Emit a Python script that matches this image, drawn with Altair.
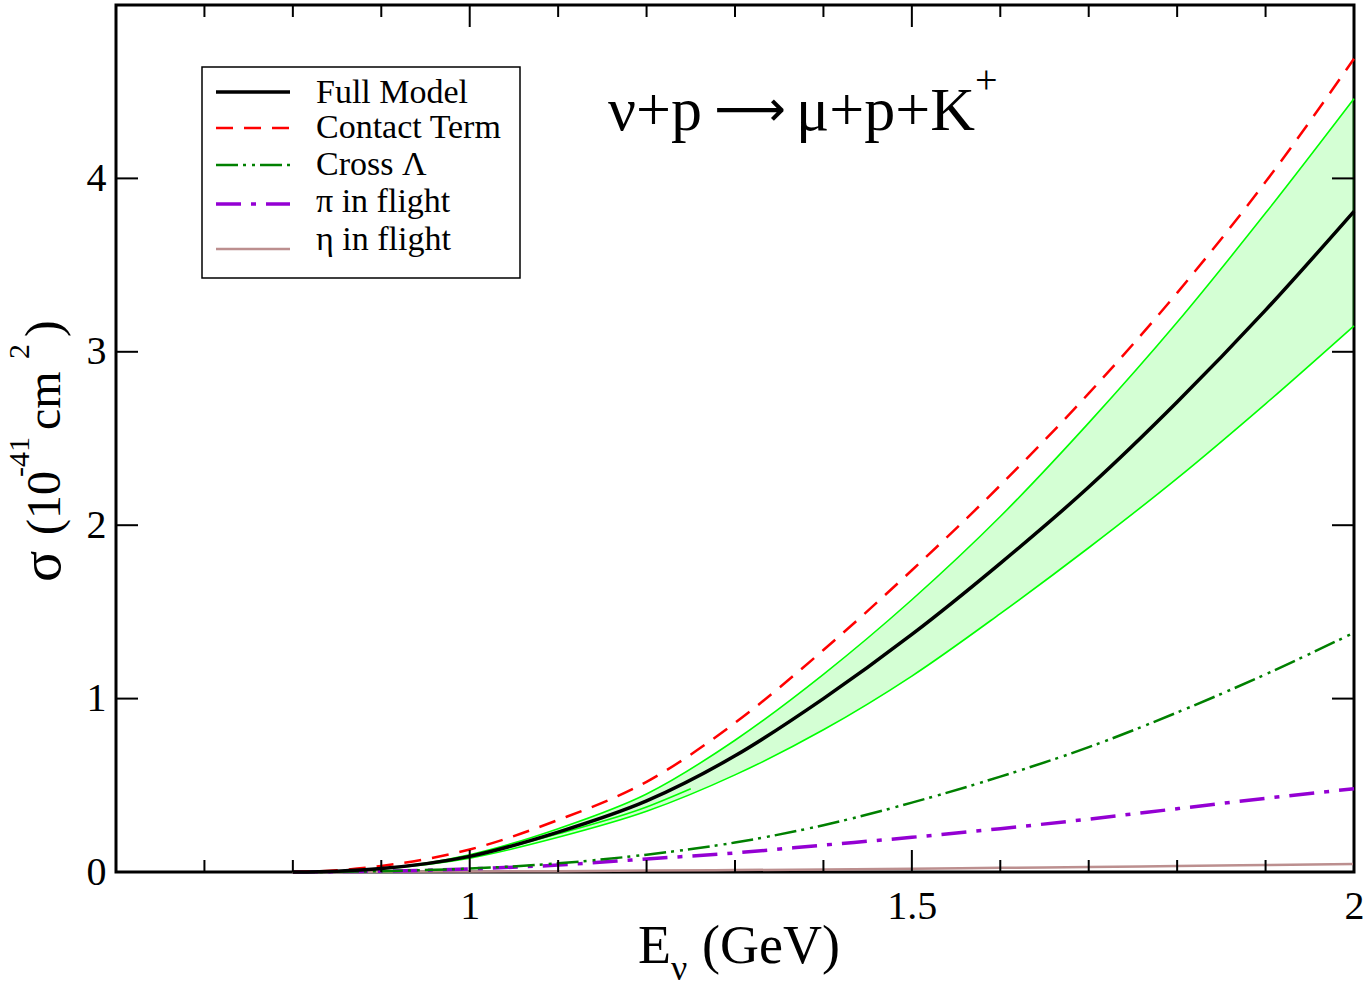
import altair as alt
import pandas as pd

# ---------------- data ----------------
energy = [0.80, 0.85, 0.90, 1.00, 1.10, 1.20, 1.30, 1.40, 1.50, 1.60, 1.70, 1.80, 1.90, 2.00]
full_model = [0.0, 0.005, 0.02, 0.09, 0.23, 0.41, 0.67, 1.00, 1.37, 1.78, 2.22, 2.71, 3.24, 3.81]
contact_term = [0.0, 0.01, 0.035, 0.13, 0.30, 0.52, 0.86, 1.28, 1.74, 2.23, 2.76, 3.34, 3.98, 4.69]
cross_lambda = [0.0, 0.001, 0.005, 0.02, 0.05, 0.10, 0.17, 0.27, 0.40, 0.55, 0.72, 0.92, 1.14, 1.38]
pi_flight = [0.0, 0.002, 0.005, 0.018, 0.04, 0.075, 0.11, 0.155, 0.20, 0.25, 0.305, 0.365, 0.425, 0.48]
eta_flight = [0.0, 0.0005, 0.001, 0.003, 0.005, 0.008, 0.011, 0.015, 0.019, 0.024, 0.029, 0.034, 0.040, 0.046]
band_upper = [0.0, 0.005, 0.02, 0.10, 0.25, 0.45, 0.76, 1.14, 1.57, 2.05, 2.59, 3.17, 3.80, 4.46]
band_lower = [0.0, 0.004, 0.018, 0.08, 0.20, 0.35, 0.56, 0.82, 1.13, 1.49, 1.87, 2.27, 2.70, 3.15]
short_energy = [1.00, 1.10, 1.20, 1.25]
short_green = [0.085, 0.22, 0.375, 0.48]

x_major = [1.0, 1.5, 2.0]
x_minor = [0.7, 0.8, 0.9, 1.1, 1.2, 1.3, 1.4, 1.6, 1.7, 1.8, 1.9]
y_major = [1, 2, 3, 4]
y_labels = [0, 1, 2, 3, 4]

legend_labels = ["Full Model", "Contact Term", "Cross \u039b", "\u03c0 in flight", "\u03b7 in flight"]

W, H = 1238, 867
SERIF = "Liberation Serif"

xs = alt.Scale(domain=[0.6, 2.0], nice=False, zero=False)
ys = alt.Scale(domain=[0, 5], nice=False, zero=False)

main = pd.DataFrame({"E": energy, "full": full_model, "contact": contact_term,
                     "cross": cross_lambda, "pi": pi_flight, "eta": eta_flight,
                     "up": band_upper, "lo": band_lower})
short_df = pd.DataFrame({"E": short_energy, "s": short_green})
one = pd.DataFrame({"a": [0]})

X = alt.X("E:Q", scale=xs, axis=alt.Axis(values=x_major, format="~g", title=None,
                                          labelPadding=14, labelFlush=False))
Yax = alt.Axis(values=y_labels, format="d", title=None, labelPadding=10, labelFlush=False)

band = alt.Chart(main).mark_area(color="#00ff00", opacity=0.17, interpolate="monotone").encode(
    x=X, y=alt.Y("lo:Q", scale=ys, axis=Yax), y2="up:Q")


def line(field, color, width, dash=None, df=main):
    kw = dict(color=color, strokeWidth=width, interpolate="monotone")
    if dash:
        kw["strokeDash"] = dash
    return alt.Chart(df).mark_line(**kw).encode(
        x=alt.X("E:Q", scale=xs), y=alt.Y(field + ":Q", scale=ys))


layers = [
    band,
    line("up", "#00ff00", 1.6),
    line("lo", "#00ff00", 1.6),
    line("s", "#00ff00", 1.6, df=short_df),
    line("eta", "#bc8f8f", 2.5),
    line("pi", "#9400d3", 3.5, [25, 10, 5, 10]),
    line("cross", "#008000", 2.5, [22, 5, 3, 6, 3, 5]),
    line("contact", "#ff0000", 2.5, [17, 11]),
    line("full", "#000000", 3.5),
]

# ---------------- inward ticks (all four sides) ----------------
def xticks(vals, length):
    df = pd.DataFrame({"t": vals})
    bot = alt.Chart(df).mark_rule(color="black", strokeWidth=2).encode(
        x=alt.X("t:Q", scale=xs), y=alt.value(H), y2=alt.value(H - length))
    top = alt.Chart(df).mark_rule(color="black", strokeWidth=2).encode(
        x=alt.X("t:Q", scale=xs), y=alt.value(0), y2=alt.value(length))
    return [bot, top]


def yticks(vals, length):
    df = pd.DataFrame({"t": vals})
    left = alt.Chart(df).mark_rule(color="black", strokeWidth=2).encode(
        y=alt.Y("t:Q", scale=ys), x=alt.value(0), x2=alt.value(length))
    right = alt.Chart(df).mark_rule(color="black", strokeWidth=2).encode(
        y=alt.Y("t:Q", scale=ys), x=alt.value(W), x2=alt.value(W - length))
    return [left, right]


layers += xticks(x_major, 22) + xticks(x_minor, 12) + yticks(y_major, 22)

# ---------------- legend (drawn by hand) ----------------
layers.append(alt.Chart(one).mark_rect(fill="white", stroke="black", strokeWidth=1.5).encode(
    x=alt.value(86), x2=alt.value(404), y=alt.value(62), y2=alt.value(273)))

leg_style = [("#000000", 3.5, None), ("#ff0000", 2.5, [17, 11]),
             ("#008000", 2.5, [22, 5, 3, 6, 3, 5]), ("#9400d3", 3.5, [25, 10, 5, 10]),
             ("#bc8f8f", 2.5, None)]
leg_line_y = [87, 123, 160, 199, 244]
leg_text_y = [98, 133, 170, 207, 245]
for lab, (col, w, dash), ly, ty in zip(legend_labels, leg_style, leg_line_y, leg_text_y):
    kw = dict(color=col, strokeWidth=w)
    if dash:
        kw["strokeDash"] = dash
    layers.append(alt.Chart(one).mark_rule(**kw).encode(
        x=alt.value(100), x2=alt.value(174), y=alt.value(ly)))
    layers.append(alt.Chart(one).mark_text(font=SERIF, fontSize=34, align="left",
                                           baseline="alphabetic", color="black").encode(
        x=alt.value(200), y=alt.value(ty), text=alt.value(lab)))

# ---------------- texts ----------------
def txt(s, x, y, size, angle=0, align="left", font=SERIF):
    kw = dict(font=font, fontSize=size, align=align, baseline="alphabetic", color="black")
    if angle:
        kw["angle"] = angle
    return alt.Chart(one).mark_text(**kw).encode(x=alt.value(x), y=alt.value(y),
                                                 text=alt.value(s))


layers += [
    # reaction label
    txt("\u03bd+p", 492, 125, 62),
    txt("\u27f6", 634, 121, 50, align="center", font="DejaVu Sans"),
    txt("\u03bc+p+K", 680, 125, 62),
    txt("+", 859, 88, 40),
    # x title
    txt("E", 522, 958, 54),
    txt("\u03bd", 555, 975, 36),
    txt("(GeV)", 586, 958, 54),
    # y title (rotated)
    txt("\u03c3", -56, 577, 58, angle=270),
    txt("(10", -56, 530, 48, angle=270),
    txt("-41", -87, 472, 30, angle=270),
    txt("cm", -56, 425, 48, angle=270),
    txt("2", -87, 354, 30, angle=270),
    txt(")", -56, 332, 50, angle=270),
]

chart = alt.layer(*layers).properties(
    width=W, height=H,
    autosize=alt.AutoSizeParams(type="none"),
    padding={"left": 116, "top": 5, "right": 15, "bottom": 116},
).configure_view(stroke="black", strokeWidth=3).configure_axis(
    domain=False, ticks=False, grid=False, labelFont=SERIF, labelFontSize=40,
    labelColor="black")

chart.save("out.html", embed_options={"renderer": "svg", "actions": False})
